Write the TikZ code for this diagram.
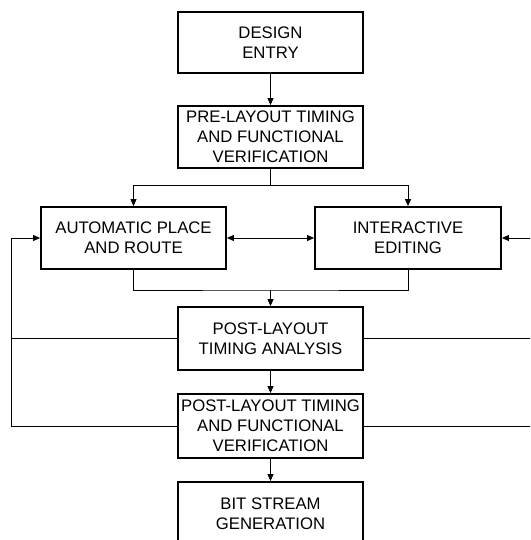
\documentclass[tikz,border=0pt]{standalone}
\usepackage{fontspec}
\setmainfont{Liberation Sans}
\usetikzlibrary{arrows.meta}
\begin{document}
\begin{tikzpicture}[x=1pt,y=-1pt,
  box/.style={draw, line width=1.8pt, align=center, inner sep=0pt,
    minimum width=185pt, font=\fontsize{16.7}{20}\selectfont},
  conn/.style={line width=0.9pt},
  arr/.style={conn, -{Triangle[length=7pt,width=6pt]}},
  darr/.style={conn, {Triangle[length=7pt,width=6pt]}-{Triangle[length=7pt,width=6pt]}}]
\useasboundingbox (0,0) rectangle (530,540);
\clip (0,0) rectangle (530,540);
\fill[white] (0,0) rectangle (530,540);
\node[box, minimum height=61pt] (de) at (270.5,42.5) {DESIGN\\ENTRY};
\node[box, minimum height=62pt] (pre) at (270.5,137) {PRE-LAYOUT TIMING\\AND FUNCTIONAL\\VERIFICATION};
\node[box, minimum height=62pt] (apr) at (133.5,238) {AUTOMATIC PLACE\\AND ROUTE};
\node[box, minimum height=62pt, minimum width=186pt] (ie) at (408,238) {INTERACTIVE\\EDITING};
\node[box, minimum height=63pt] (plta) at (270.5,338.5) {POST-LAYOUT\\TIMING ANALYSIS};
\node[box, minimum height=64pt] (pltfv) at (270.5,426) {POST-LAYOUT TIMING\\AND FUNCTIONAL\\VERIFICATION};
\node[box, minimum height=64pt] (bs) at (270.5,514) {BIT STREAM\\GENERATION};
\coordinate (split) at (270.5,185);
\coordinate (merge) at (270.5,290);
\coordinate (lfb) at (11,426);
\coordinate (rfb) at (534,426);
\draw[arr] (de) -- (pre);
\draw[conn] (pre) -- (split);
\draw[arr] (split) -| (apr);
\draw[arr] (split) -| (ie);
\draw[darr] (apr) -- (ie);
\draw[conn] (apr.south) |- (merge) -| (ie.south);
\draw[arr] (merge) -- (plta);
\draw[arr] (plta) -- (pltfv);
\draw[arr] (pltfv) -- (bs);
\draw[arr] (pltfv.west) -- (lfb) |- (apr.west);
\draw[conn] (plta.west) -- (plta.west -| lfb);
\draw[arr] (pltfv.east) -- (rfb) |- (ie.east);
\draw[conn] (plta.east) -- (plta.east -| rfb);
\end{tikzpicture}
\end{document}
